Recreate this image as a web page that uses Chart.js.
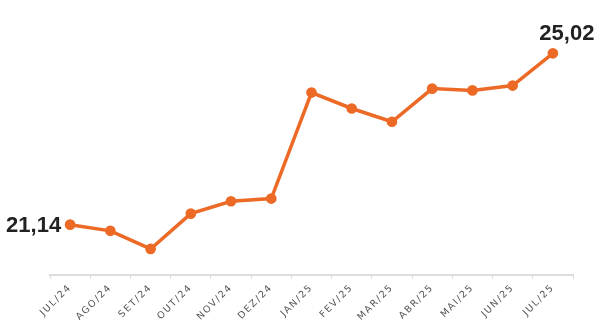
<!DOCTYPE html>
<html><head><meta charset="utf-8">
<style>html,body{margin:0;padding:0;background:#fff}#wrap{width:600px;height:332px}</style>
<script src="https://cdn.jsdelivr.net/npm/chart.js@4/dist/chart.umd.min.js"></script>
</head><body><div id="wrap"><canvas id="c" width="600" height="332"></canvas></div>
<script>
const categories = ["JUL/24","AGO/24","SET/24","OUT/24","NOV/24","DEZ/24","JAN/25","FEV/25","MAR/25","ABR/25","MAI/25","JUN/25","JUL/25"];
const values = [21.14, 21.00, 20.59, 21.39, 21.67, 21.73, 24.13, 23.77, 23.47, 24.22, 24.18, 24.29, 25.02];
const shownLabels = {0: "21,14", 12: "25,02"};

const labelPlugin = {
  id: 'endLabels',
  beforeDraw(chart) { chart.ctx.letterSpacing = '1.6px'; },
  afterDatasetsDraw(chart) {
    const ctx = chart.ctx;
    const meta = chart.getDatasetMeta(0);
    ctx.save();
    ctx.letterSpacing = '0px';
    ctx.font = 'bold 22px "Liberation Sans", Arial, sans-serif';
    ctx.fillStyle = '#222';
    const p0 = meta.data[0];
    ctx.textAlign = 'right'; ctx.textBaseline = 'middle';
    ctx.fillText(shownLabels[0], p0.x - 9, p0.y + 1);
    const pl = meta.data[12];
    ctx.textAlign = 'center'; ctx.textBaseline = 'bottom';
    ctx.fillText(shownLabels[12], pl.x + 14, pl.y - 8);
    ctx.restore();
  }
};

new Chart(document.getElementById('c'), {
  type: 'line',
  data: { labels: categories, datasets: [{
    data: values, borderColor: '#EC6A26', backgroundColor: '#EC6A26',
    borderWidth: 3.5, pointRadius: 3.6, pointHoverRadius: 3.6, tension: 0
  }]},
  options: {
    responsive: false, animation: false,
    layout: { padding: { left: 50, right: 27, top: 10, bottom: 0 } },
    plugins: { legend: { display: false }, tooltip: { enabled: false } },
    scales: {
      y: { display: false, min: 20, max: 26 },
      x: {
        offset: true,
        grid: { offset: true, drawOnChartArea: false, drawTicks: true, tickLength: 4, color: '#dddddd' },
        border: { color: '#dddddd', width: 2 },
        ticks: { maxRotation: 45, minRotation: 45, color: '#555', padding: 3,
                 font: { size: 9.5, family: '"DejaVu Sans", sans-serif' } },
        afterFit(scale) { scale.height = 57; }
      }
    }
  },
  plugins: [labelPlugin]
});
</script></body></html>
